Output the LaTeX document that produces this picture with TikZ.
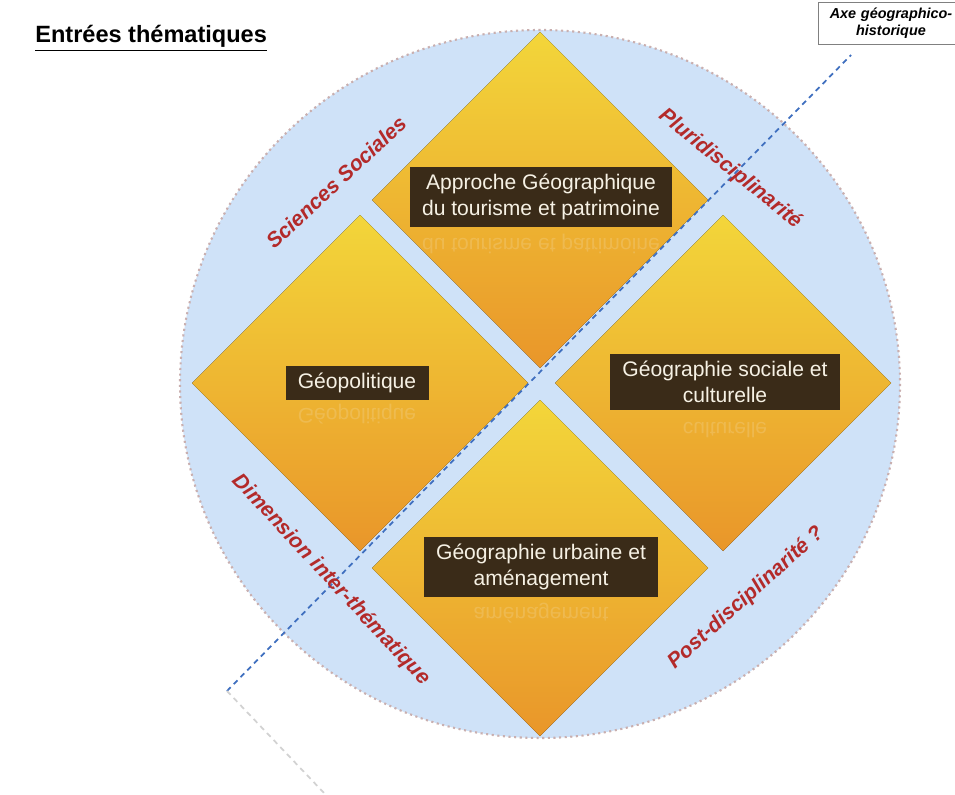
\documentclass[tikz,border=0pt]{standalone}
\usepackage{fontspec}
\setmainfont{Liberation Sans}
\usetikzlibrary{positioning}
\definecolor{ciel}{HTML}{CFE2F8}
\definecolor{pointille}{HTML}{C9AFAF}
\definecolor{jaune}{HTML}{F3D63A}
\definecolor{orange}{HTML}{E9962A}
\definecolor{brun}{HTML}{3A2B18}
\definecolor{creme}{HTML}{F6F1E4}
\definecolor{rouge}{HTML}{B32A2A}
\definecolor{axe}{HTML}{3F6FBF}
\tikzset{
    losange/.style={top color=jaune, bottom color=orange},
    etiquette/.style={fill=brun, text=creme, align=center, inner xsep=7pt, inner ysep=4pt,
        font=\fontsize{12}{15}\selectfont},
    reflet/.style={text=creme, opacity=0.18, yscale=-1, transform shape,
        font=\fontsize{12}{15}\selectfont},
    discipline/.style={text=rouge, font=\fontsize{12}{14}\selectfont\bfseries\itshape}
}
\begin{document}
\begin{tikzpicture}[x=0.02cm, y=-0.02cm]
        \useasboundingbox (0,0) rectangle (955,794);
        % disque
        \fill[ciel] (540,384) ellipse (360 and 354);
        \draw[pointille, line width=1.2pt, dotted] (540,384) ellipse (360 and 354);
        % losanges
        \fill[losange] (540,32) -- (708,200) -- (540,368) -- (372,200) -- cycle;
        \fill[losange] (360,215) -- (528,383) -- (360,551) -- (192,383) -- cycle;
        \fill[losange] (723,215) -- (891,383) -- (723,551) -- (555,383) -- cycle;
        \fill[losange] (540,400) -- (708,568) -- (540,736) -- (372,568) -- cycle;
        % axe
        \coordinate (axe bas) at (227,691);
        \coordinate (axe haut) at (851,55);
        \coordinate (axe fin) at (325,794);
        \draw[axe, dash pattern=on 3pt off 2.5pt, line width=1pt] (axe bas) -- (axe haut);
        \draw[gray!35, dash pattern=on 3pt off 2.5pt, line width=1pt] (axe bas) -- (axe fin);
        % reflets
        \node[reflet] (reflet tourisme) at (541,244) {du tourisme et patrimoine};
        \node[reflet] (reflet geopol) at (357,414) {G\'eopolitique};
        \node[reflet] (reflet social) at (725,430) {culturelle};
        \node[reflet] (reflet urbain) at (541,613) {am\'enagement};
        % etiquettes
        \node[etiquette] (tourisme) at (541,197) {Approche G\'eographique\\du tourisme et patrimoine};
        \node[etiquette] (geopol) at (357,383) {G\'eopolitique};
        \node[etiquette] (social) at (725,382) {G\'eographie sociale et\\culturelle};
        \node[etiquette] (urbain) at (541,567) {G\'eographie urbaine et\\am\'enagement};
        % disciplines
        \node[discipline, rotate=43] (sciences) at (336,182) {Sciences Sociales};
        \node[discipline, rotate=-39] (pluri) at (730,169) {Pluridisciplinarit\'e};
        \node[discipline, rotate=-47] (dimension) at (331,580) {Dimension inter-th\'ematique};
        \node[discipline, rotate=42] (post) at (746,598) {Post-disciplinarit\'e ?};
        % titre
        \node[anchor=base west, inner sep=0pt, font=\fontsize{13.4}{16}\selectfont\bfseries] (titre) at (35,43)
            {\underline{Entr\'ees th\'ematiques}};
        \node[draw=gray, fill=white, align=center, text width=76pt, minimum height=24pt,
            font=\fontsize{8.2}{9.8}\selectfont\bfseries\itshape, anchor=north west] (axe titre) at (818,2)
            {Axe g\'eographico-\\historique};
\end{tikzpicture}
\end{document}
